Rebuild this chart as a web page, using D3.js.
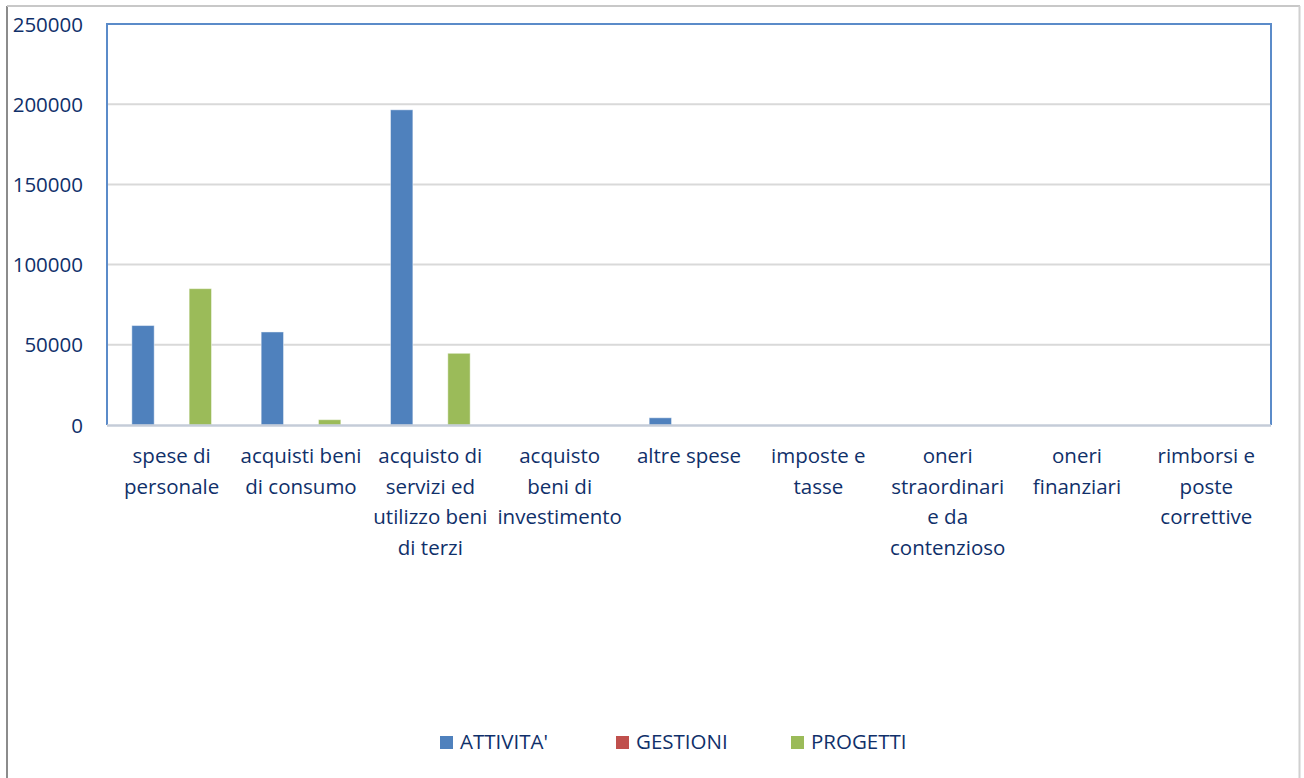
<!DOCTYPE html>
<html><head><meta charset="utf-8">
<script src="https://cdn.jsdelivr.net/npm/d3@7"></script>
<style>html,body{margin:0;padding:0;background:#fff;overflow:hidden}</style>
</head><body>
<svg id="c" width="1304" height="778"></svg>
<script>
const categories = [
  ["spese di","personale"],
  ["acquisti beni","di consumo"],
  ["acquisto di","servizi ed","utilizzo beni","di terzi"],
  ["acquisto","beni di","investimento"],
  ["altre spese"],
  ["imposte e","tasse"],
  ["oneri","straordinari","e da","contenzioso"],
  ["oneri","finanziari"],
  ["rimborsi e","poste","correttive"]
];
const seriesNames = ["ATTIVITA'","GESTIONI","PROGETTI"];
const attivita = [62000, 58000, 196500, 0, 4500, 0, 0, 0, 0];
const gestioni = [0, 0, 0, 0, 0, 0, 0, 0, 0];
const progetti = [85000, 3300, 44700, 0, 0, 0, 0, 0, 0];
const yTicks = [0, 50000, 100000, 150000, 200000, 250000];
const colors = ["#4F81BD","#C0504D","#9BBB59"];

const series = [attivita, gestioni, progetti];
const svg = d3.select("#c");
const L = 107, R = 1271, T = 24, B = 425;
const font = "'Open Sans', 'Liberation Sans', Arial, sans-serif";
const fs = 20.5;
const txtCol = "#10306A";

// outer frame
svg.append("line").attr("x1",7).attr("x2",7).attr("y1",6).attr("y2",778).attr("stroke","#8c8c8c").attr("stroke-width",2);
svg.append("line").attr("x1",7).attr("x2",1300).attr("y1",6).attr("y2",6).attr("stroke","#c8c8c8").attr("stroke-width",2);
svg.append("line").attr("x1",1299.5).attr("x2",1299.5).attr("y1",6).attr("y2",778).attr("stroke","#d0d0d0").attr("stroke-width",2);

const x = d3.scaleBand().domain(d3.range(categories.length)).range([L, R]).paddingInner(0).paddingOuter(0);
const xs = d3.scaleBand().domain(d3.range(3)).range([0, x.bandwidth()]).paddingInner(0.22).paddingOuter(0.867);
const y = d3.scaleLinear().domain([0, 250000]).range([B, T]);

// gridlines
svg.append("g").selectAll("line").data(yTicks.filter(d=>d>0)).join("line")
  .attr("x1",L).attr("x2",R).attr("y1",d=>y(d)).attr("y2",d=>y(d))
  .attr("stroke","#d9d9d9").attr("stroke-width",2);

// y axis labels
const yAxis = d3.axisLeft(y).tickValues(yTicks).tickSize(0).tickPadding(0).tickFormat(d3.format("d"));
const ya = svg.append("g").attr("transform",`translate(83,0)`).call(yAxis);
ya.select(".domain").remove();
ya.selectAll("text").attr("font-family",font).attr("font-size",fs).attr("fill",txtCol).attr("dy","0.35em");

// bars
const g = svg.append("g");
categories.forEach((c,i)=>{
  series.forEach((s,j)=>{
    const v = s[i];
    if (v<=0) return;
    g.append("rect").attr("x",x(i)+xs(j)).attr("width",xs.bandwidth())
      .attr("y",y(v)).attr("height",B-y(v)).attr("fill",colors[j])
      .attr("stroke","rgba(255,255,255,0.45)").attr("stroke-width",1);
  });
});

// plot border (top, left, right blue)
svg.append("path").attr("d",`M${L},${B}V${T}H${R}V${B}`).attr("fill","none").attr("stroke","#5B8BC9").attr("stroke-width",2);
// x axis line
svg.append("line").attr("x1",L).attr("x2",R).attr("y1",B+0.5).attr("y2",B+0.5).attr("stroke","#c5ccd8").attr("stroke-width",2.5);

// category labels
const xl = svg.append("g");
categories.forEach((lines,i)=>{
  const t = xl.append("text").attr("x",x(i)+x.bandwidth()/2).attr("y",463)
    .attr("text-anchor","middle").attr("font-family",font).attr("font-size",fs).attr("fill",txtCol);
  lines.forEach((ln,k)=>{
    t.append("tspan").attr("x",x(i)+x.bandwidth()/2).attr("dy",k===0?0:30.7).text(ln);
  });
});

// legend
const legX = [440, 616, 791];
const lg = svg.append("g");
seriesNames.forEach((n,j)=>{
  lg.append("rect").attr("x",legX[j]).attr("y",736).attr("width",13).attr("height",13).attr("fill",colors[j]);
  lg.append("text").attr("x",legX[j]+20).attr("y",749).attr("font-family",font).attr("font-size",fs).attr("fill",txtCol).text(n);
});
</script>
</body></html>
